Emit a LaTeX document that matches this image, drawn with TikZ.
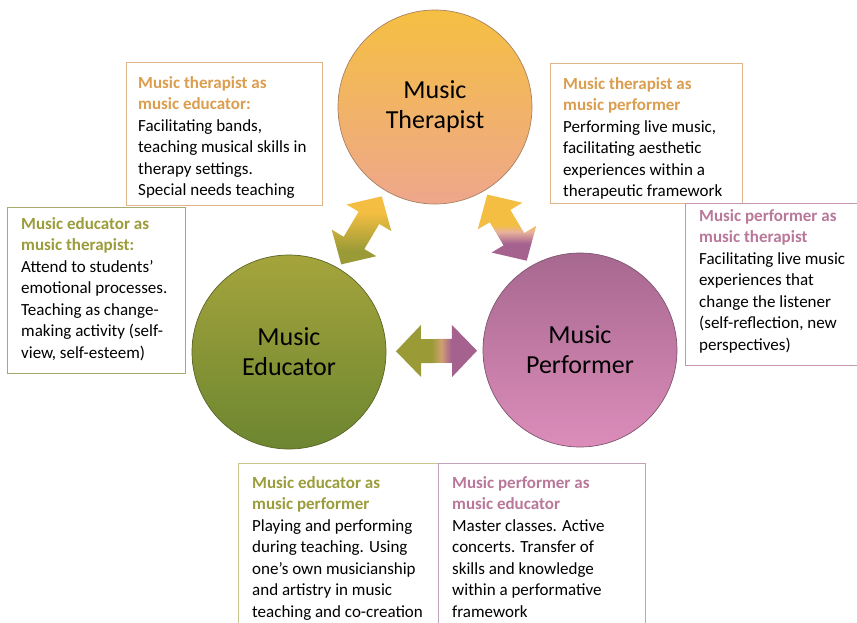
\documentclass[tikz,border=0pt]{standalone}
\usepackage{fontspec}
\setmainfont{Carlito}
\usetikzlibrary{calc}
\definecolor{therTop}{HTML}{F5BF42}
\definecolor{therBot}{HTML}{EEA78C}
\definecolor{therLine}{HTML}{A98060}
\definecolor{eduTop}{HTML}{A5A43C}
\definecolor{eduBot}{HTML}{6C8630}
\definecolor{eduLine}{HTML}{5A6428}
\definecolor{perfTop}{HTML}{A7688F}
\definecolor{perfBot}{HTML}{DC8DBA}
\definecolor{perfLine}{HTML}{7E5570}
\definecolor{therTitle}{HTML}{DB9D4E}
\definecolor{eduTitle}{HTML}{9B9C3B}
\definecolor{perfTitle}{HTML}{B9789A}
\definecolor{therFrame}{HTML}{E0B58C}
\definecolor{eduFrame}{HTML}{A9AA6E}
\definecolor{eduFrameLight}{HTML}{C6C690}
\definecolor{perfFrame}{HTML}{C796AF}
\definecolor{perfFrameLight}{HTML}{C0A3B8}
\definecolor{arrYellow}{HTML}{F3BE42}
\definecolor{arrOlive}{HTML}{9A9B37}
\definecolor{arrPurple}{HTML}{A6628F}
\definecolor{arrPeach}{HTML}{E9B39C}
\definecolor{arrTan}{HTML}{CFA070}
\pgfdeclareverticalshading{teshade}{100bp}{color(0bp)=(arrOlive); color(35bp)=(arrOlive); color(63bp)=(arrYellow); color(100bp)=(arrYellow)}
\pgfdeclareverticalshading{tpshade}{100bp}{color(0bp)=(arrPurple); color(38bp)=(arrPurple); color(47bp)=(arrPeach); color(52bp)=(arrYellow); color(100bp)=(arrYellow)}
\pgfdeclarehorizontalshading{epshade}{100bp}{color(0bp)=(arrOlive); color(47bp)=(arrOlive); color(53bp)=(arrTan); color(59bp)=(arrPurple); color(100bp)=(arrPurple)}
\newcommand\boxtitle[2]{\textcolor{#1}{\textbf{#2}}}
\newcommand\blockarrow[3]{%
  \coordinate (#1h) at ($(#1)!25pt!(#2)$);
  \coordinate (#2h) at ($(#2)!25pt!(#1)$);
  \shade[#3] (#1) -- ($(#1h)!26pt!90:(#2)$) -- ($(#1h)!12pt!90:(#2)$)
    -- ($(#2h)!12pt!-90:(#1)$) -- ($(#2h)!26pt!-90:(#1)$) -- (#2)
    -- ($(#2h)!26pt!90:(#1)$) -- ($(#2h)!12pt!90:(#1)$)
    -- ($(#1h)!12pt!-90:(#2)$) -- ($(#1h)!26pt!-90:(#2)$) -- cycle;
}
\begin{document}
\begin{tikzpicture}[x=1pt,y=-1pt,
  frame/.style={draw=#1, line width=0.9pt, rectangle, inner sep=0pt, anchor=north west},
  boxtext/.style={anchor=north west, inner sep=0pt, align=left, font=\fontsize{17}{21.5}\selectfont},
  role/.style={circle, inner sep=0pt, minimum size=194pt, line width=0.7pt, align=center,
    font=\fontsize{26}{30}\selectfont}]
\fill[white] (0,0) rectangle (857,622);
\useasboundingbox (0,0) rectangle (857,622);

% boxes
\node[frame=therFrame, minimum width=196pt, minimum height=143pt] (tlbox) at (126,62) {};
\node[boxtext] (tltext) at ([shift={(12,14)}]tlbox.north west) {%
\boxtitle{therTitle}{Music therapist as}\\
\boxtitle{therTitle}{music educator:}\\
Facilitating bands,\\
teaching musical skills in\\
therapy settings.\\
Special needs teaching};

\node[frame=therFrame, minimum width=192pt, minimum height=140pt] (trbox) at (550,63) {};
\node[boxtext] (trtext) at ([shift={(13,14)}]trbox.north west) {%
\boxtitle{therTitle}{Music therapist as}\\
\boxtitle{therTitle}{music performer}\\
Performing live music,\\
facilitating aesthetic\\
experiences within a\\
therapeutic framework};

\node[frame=eduFrame, minimum width=178pt, minimum height=166pt] (lbox) at (7,207) {};
\node[boxtext] (ltext) at ([shift={(14,10)}]lbox.north west) {%
\boxtitle{eduTitle}{Music educator as}\\
\boxtitle{eduTitle}{music therapist:}\\
Attend to students’\\
emotional processes.\\
Teaching as change-\\
making activity (self-\\
view, self-esteem)};

\node[frame=perfFrame, minimum width=200pt, minimum height=162pt] (rbox) at (685,203) {};
\node[boxtext] (rtext) at ([shift={(14,6)}]rbox.north west) {%
\boxtitle{perfTitle}{Music performer as}\\
\boxtitle{perfTitle}{music therapist}\\
Facilitating live music\\
experiences that\\
change the listener\\
(self-reflection, new\\
perspectives)};

\node[frame=eduFrameLight, minimum width=200pt, minimum height=170pt] (blbox) at (238,463) {};
\node[boxtext] (bltext) at ([shift={(14,13)}]blbox.north west) {%
\boxtitle{eduTitle}{Music educator as}\\
\boxtitle{eduTitle}{music performer}\\
Playing and performing\\
during teaching. Using\\
one’s own musicianship\\
and artistry in music\\
teaching and co-creation};

\node[frame=perfFrameLight, minimum width=207pt, minimum height=170pt] (brbox) at (438,463) {};
\node[boxtext] (brtext) at ([shift={(14,13)}]brbox.north west) {%
\boxtitle{perfTitle}{Music performer as}\\
\boxtitle{perfTitle}{music educator}\\
Master classes. Active\\
concerts. Transfer of\\
skills and knowledge\\
within a performative\\
framework};

% circles
\node[role, draw=therLine, top color=therTop, bottom color=therBot] (ther) at (435,107) {Music\\Therapist};
\node[role, draw=eduLine, top color=eduTop, bottom color=eduBot] (edu) at (289,352) {Music\\Educator};
\node[role, draw=perfLine, top color=perfTop, bottom color=perfBot] (perf) at (580,350) {Music\\Performer};

% arrows
\coordinate (teA) at ($(edu)!102pt!(ther)$);
\coordinate (teB) at ($(ther)!104pt!(edu)$);
\coordinate (tpA) at ($(ther)!102pt!(perf)$);
\coordinate (tpB) at ($(perf)!104pt!(ther)$);
\coordinate (epA) at ($(edu)!107pt!(perf)$);
\coordinate (epB) at ($(perf)!103pt!(edu)$);
\blockarrow{teA}{teB}{shading=teshade}
\blockarrow{tpA}{tpB}{shading=tpshade}
\blockarrow{epA}{epB}{shading=epshade}
\end{tikzpicture}
\end{document}
